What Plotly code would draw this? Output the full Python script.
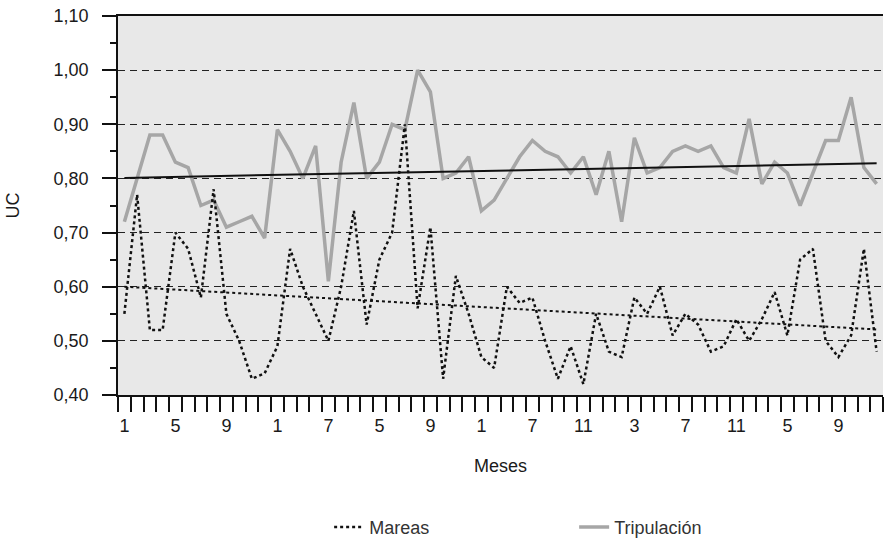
import plotly.graph_objects as go

meses = list(range(1, 61))
tick_pos = [1, 5, 9, 13, 17, 21, 25, 29, 33, 37, 41, 45, 49, 53, 57]
tick_txt = ["1", "5", "9", "1", "7", "5", "9", "1", "7", "11", "3", "7", "11", "5", "9"]

mareas = [0.55, 0.77, 0.52, 0.52, 0.70, 0.67, 0.58, 0.78, 0.55, 0.50,
          0.43, 0.44, 0.49, 0.67, 0.60, 0.55, 0.50, 0.60, 0.74, 0.53,
          0.65, 0.70, 0.90, 0.56, 0.71, 0.43, 0.62, 0.55, 0.47, 0.45,
          0.60, 0.57, 0.58, 0.50, 0.43, 0.49, 0.42, 0.55, 0.48, 0.47,
          0.58, 0.55, 0.60, 0.51, 0.55, 0.53, 0.48, 0.49, 0.54, 0.50,
          0.54, 0.59, 0.51, 0.65, 0.67, 0.50, 0.47, 0.51, 0.67, 0.48]

tripulacion = [0.72, 0.80, 0.88, 0.88, 0.83, 0.82, 0.75, 0.76, 0.71, 0.72,
               0.73, 0.69, 0.89, 0.85, 0.80, 0.86, 0.61, 0.83, 0.94, 0.80,
               0.83, 0.90, 0.89, 1.00, 0.96, 0.80, 0.81, 0.84, 0.74, 0.76,
               0.80, 0.84, 0.87, 0.85, 0.84, 0.81, 0.84, 0.77, 0.85, 0.72,
               0.875, 0.81, 0.82, 0.85, 0.86, 0.85, 0.86, 0.82, 0.81, 0.91,
               0.79, 0.83, 0.81, 0.75, 0.81, 0.87, 0.87, 0.95, 0.82, 0.79]

trend_x = [1, 60]
trend_mareas = [0.600, 0.521]
trend_trip = [0.801, 0.828]

fig = go.Figure()
fig.add_trace(go.Scatter(x=meses, y=tripulacion, mode="lines", name="Tripulación",
                         line=dict(color="#a6a6a6", width=3.5), legendrank=2))
fig.add_trace(go.Scatter(x=meses, y=mareas, mode="lines", name="Mareas",
                         line=dict(color="#111111", width=2.5, dash="dot"), legendrank=1))
fig.add_trace(go.Scatter(x=trend_x, y=trend_mareas, mode="lines", showlegend=False,
                         line=dict(color="#111111", width=2, dash="dot")))
fig.add_trace(go.Scatter(x=trend_x, y=trend_trip, mode="lines", showlegend=False,
                         line=dict(color="#111111", width=2)))

font = "Liberation Sans, Arial, sans-serif"
fig.update_layout(
    width=885, height=541,
    margin=dict(l=118, r=2, t=16, b=146, autoexpand=False),
    paper_bgcolor="white",
    plot_bgcolor="#e8e8e8",
    separators=", ",
    font=dict(family=font, size=18, color="#1a1a1a"),
    showlegend=True,
    legend=dict(orientation="h", x=0.276, y=-0.30, xanchor="left", yanchor="top",
                font=dict(size=18, color="#333333"),
                entrywidth=200, entrywidthmode="pixels"),
    xaxis=dict(
        range=[0.5, 60.5], tickmode="array", tickvals=tick_pos, ticktext=tick_txt,
        ticks="outside", ticklen=15, tickcolor="rgba(0,0,0,0)",
        ticklabelstandoff=-2,
        showline=True, linecolor="#111111", linewidth=1.8, mirror=True,
        showgrid=False, zeroline=False,
        minor=dict(tick0=0.5, dtick=1, ticks="outside", ticklen=15,
                   tickcolor="#111111", tickwidth=1.5, showgrid=False),
        title=dict(text="Meses", standoff=25, font=dict(size=18)),
        tickfont=dict(size=18),
    ),
    yaxis=dict(
        range=[0.4, 1.1], dtick=0.1, tick0=0.4, tickformat=".2f",
        ticks="outside", ticklen=14, tickcolor="#111111", tickwidth=1.5,
        ticklabelstandoff=10, ticklabeloverflow="allow",
        showline=True, linecolor="#111111", linewidth=1.8,
        showgrid=True, gridcolor="#222222", griddash="7px,5px", gridwidth=1.3,
        zeroline=False,
        minor=dict(dtick=0.05, ticks="outside", ticklen=6, tickcolor="#111111",
                   tickwidth=1.5, showgrid=False),
        title=dict(text="UC", standoff=29, font=dict(size=18)),
        tickfont=dict(size=18),
    ),
)

fig.write_html("out.html", config={"displayModeBar": False},
               post_script="document.body.style.margin='0px';")
